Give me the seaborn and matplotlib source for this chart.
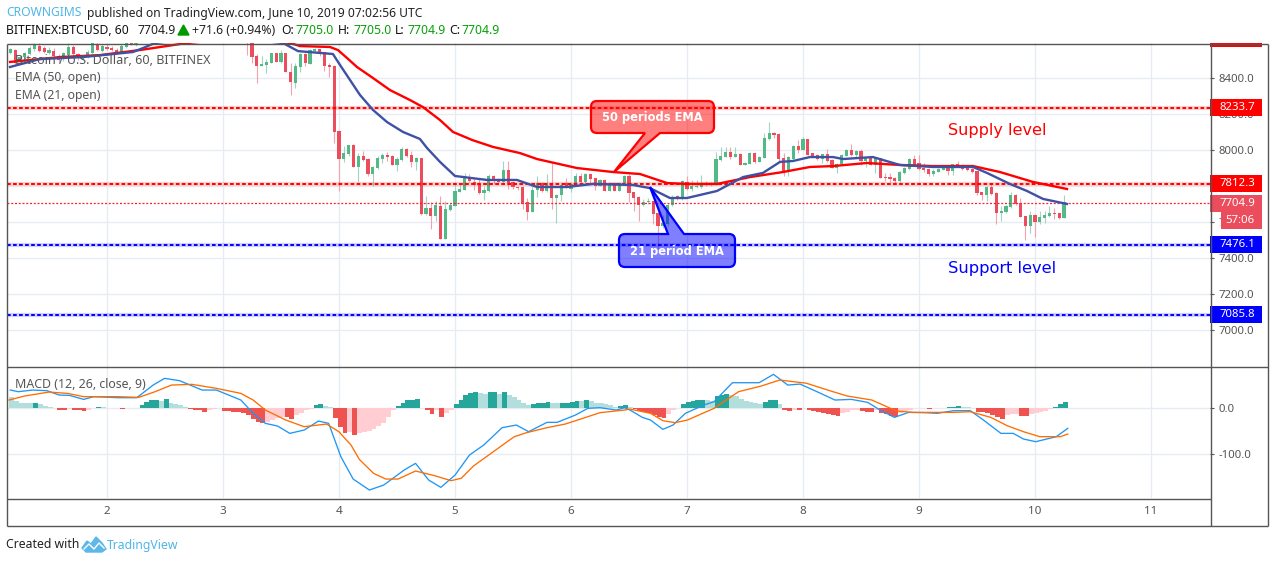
import pandas as pd
import matplotlib.pyplot as plt
import seaborn as sns
from matplotlib.patches import PathPatch, Polygon, Rectangle
from matplotlib.path import Path


class ChartPlotter:
    """ handles the candle panel, the MACD panel and all the labels around them"""

    FONT = 'Noto Sans'
    UP = '#53b987'
    DOWN = '#eb4d5c'
    GRID = '#e6ecf2'
    TEXT = '#555555'

    # hourly open, high, low, close, first candle is day 1 at 04:00
    CANDLES = [
        (8539, 8565, 8530, 8558), (8554, 8560, 8475, 8480), (8489, 8525, 8480, 8517), (8513, 8545, 8505, 8535),
        (8532, 8575, 8525, 8563), (8559, 8591, 8550, 8582), (8576, 8591, 8545, 8550), (8567, 8575, 8540, 8545),
        (8540, 8570, 8530, 8555), (8550, 8565, 8510, 8520), (8520, 8530, 8490, 8498), (8502, 8545, 8495, 8535),
        (8526, 8591, 8520, 8569), (8569, 8580, 8525, 8532), (8532, 8540, 8500, 8508), (8505, 8525, 8500, 8515),
        (8517, 8555, 8510, 8545), (8535, 8620, 8530, 8600), (8590, 8600, 8548, 8555), (8550, 8590, 8545, 8576),
        (8572, 8585, 8555, 8560), (8567, 8575, 8548, 8553), (8555, 8565, 8540, 8545), (8545, 8585, 8540, 8576),
        (8570, 8610, 8565, 8600), (8600, 8610, 8580, 8585), (8580, 8615, 8575, 8605),
        # these ones sit above the top of the panel
        (8610, 8660, 8600, 8650), (8650, 8700, 8640, 8690), (8690, 8730, 8670, 8710), (8710, 8760, 8700, 8750),
        (8750, 8790, 8730, 8770), (8770, 8800, 8740, 8750), (8750, 8780, 8720, 8730), (8730, 8770, 8710, 8760),
        (8760, 8790, 8740, 8745), (8745, 8770, 8710, 8720), (8720, 8760, 8700, 8750), (8750, 8770, 8720, 8730),
        (8730, 8750, 8690, 8700), (8700, 8740, 8680, 8725), (8725, 8750, 8700, 8710), (8710, 8730, 8670, 8680),
        (8680, 8710, 8650, 8695), (8695, 8720, 8670, 8675), (8675, 8700, 8640, 8660), (8660, 8690, 8630, 8670),
        (8670, 8690, 8640, 8650), (8650, 8680, 8620, 8660),
        (8660, 8670, 8526, 8600), (8591, 8620, 8480, 8517), (8522, 8530, 8373, 8467), (8467, 8520, 8465, 8476),
        (8472, 8505, 8427, 8487), (8483, 8540, 8480, 8535), (8535, 8540, 8487, 8489), (8487, 8555, 8480, 8535),
        (8535, 8540, 8430, 8434), (8435, 8480, 8306, 8378), (8373, 8480, 8345, 8465), (8461, 8540, 8432, 8531),
        (8531, 8540, 8463, 8480), (8476, 8560, 8474, 8554), (8548, 8565, 8540, 8559), (8557, 8562, 8520, 8535),
        (8541, 8545, 8437, 8467), (8470, 8480, 8404, 8461), (8465, 8470, 8040, 8101), (8107, 8110, 7775, 7950),
        (7950, 8020, 7935, 7983), (7977, 8030, 7965, 8027), (8027, 8032, 7905, 7907), (7907, 7985, 7825, 7966),
        (7966, 7995, 7940, 7944), (7950, 7955, 7855, 7867), (7867, 7912, 7800, 7907), (7901, 7965, 7895, 7955),
        (7950, 7985, 7926, 7972), (7972, 7990, 7940, 7963), (7966, 7970, 7915, 7917), (7917, 7960, 7885, 7950),
        (7944, 8015, 7940, 8005), (8005, 8010, 7964, 7966), (7972, 7997, 7905, 7933), (7933, 7960, 7890, 7955),
        (7955, 7957, 7640, 7645), (7645, 7745, 7640, 7678), (7678, 7710, 7562, 7634), (7634, 7720, 7608, 7693),
        (7690, 7745, 7505, 7507), (7507, 7720, 7505, 7673), (7668, 7705, 7660, 7695), (7692, 7825, 7690, 7773),
        (7769, 7810, 7765, 7784), (7778, 7872, 7778, 7849), (7849, 7868, 7822, 7828), (7821, 7845, 7780, 7806),
        (7812, 7840, 7755, 7760), (7760, 7800, 7723, 7778), (7773, 7865, 7765, 7856), (7856, 7860, 7810, 7830),
        (7839, 7845, 7815, 7821), (7821, 7937, 7815, 7889), (7889, 7937, 7785, 7815), (7825, 7830, 7785, 7797),
        (7793, 7800, 7780, 7790), (7797, 7800, 7672, 7701), (7712, 7735, 7610, 7656), (7656, 7800, 7655, 7778),
        (7778, 7857, 7740, 7819), (7819, 7825, 7765, 7773), (7773, 7867, 7770, 7819), (7815, 7926, 7673, 7734),
        (7734, 7755, 7597, 7751), (7751, 7810, 7715, 7806), (7815, 7843, 7790, 7793), (7782, 7815, 7770, 7812),
        (7806, 7870, 7800, 7856), (7856, 7872, 7815, 7821), (7821, 7872, 7817, 7865), (7865, 7867, 7817, 7839),
        (7843, 7845, 7780, 7802), (7802, 7840, 7800, 7834), (7834, 7837, 7773, 7775), (7773, 7825, 7771, 7819),
        (7819, 7822, 7772, 7775), (7775, 7822, 7773, 7819), (7815, 7862, 7813, 7856), (7856, 7865, 7710, 7760),
        (7767, 7770, 7660, 7736), (7741, 7745, 7608, 7695), (7697, 7730, 7690, 7712), (7712, 7735, 7700, 7717),
        (7717, 7720, 7590, 7645), (7653, 7655, 7450, 7579), (7579, 7640, 7570, 7594), (7590, 7700, 7580, 7693),
        (7693, 7750, 7690, 7741), (7745, 7750, 7725, 7728), (7728, 7832, 7725, 7828), (7825, 7855, 7780, 7784),
        (7784, 7835, 7775, 7800), (7793, 7835, 7790, 7802), (7797, 7860, 7790, 7819), (7819, 7828, 7800, 7806),
        (7806, 7825, 7803, 7819), (7810, 7990, 7808, 7948), (7945, 8017, 7940, 7967), (7963, 8015, 7960, 7989),
        (7989, 8015, 7950, 7963), (7963, 8015, 7960, 7978), (7978, 7985, 7915, 7917), (7917, 7935, 7915, 7928),
        (7922, 7990, 7920, 7985), (7985, 7990, 7930, 7933), (7933, 7965, 7931, 7961), (7958, 8092, 7955, 8066),
        (8061, 8155, 8055, 8094), (8094, 8100, 8065, 8083), (8089, 8097, 7940, 7948), (7954, 7985, 7855, 7884),
        (7887, 7965, 7855, 7961), (7950, 8030, 7945, 8022), (8022, 8055, 7985, 8000), (8000, 8070, 7998, 8061),
        (8061, 8063, 7970, 7972), (7983, 7985, 7967, 7969), (7972, 7980, 7945, 7948), (7948, 7980, 7930, 7976),
        (7976, 8005, 7935, 7941), (7945, 7950, 7900, 7902), (7902, 7927, 7875, 7922), (7920, 7976, 7918, 7972),
        (7969, 8005, 7967, 8000), (8000, 8033, 7968, 7972), (7972, 8000, 7955, 7994), (7994, 8005, 7915, 7941),
        (7941, 7958, 7905, 7954), (7958, 7962, 7915, 7917), (7917, 7958, 7870, 7954), (7954, 7956, 7845, 7847),
        (7849, 7870, 7830, 7845), (7850, 7870, 7825, 7840), (7845, 7850, 7815, 7826), (7828, 7882, 7825, 7878),
        (7872, 7905, 7868, 7900), (7895, 7955, 7890, 7950), (7950, 7970, 7915, 7917), (7926, 7970, 7890, 7893),
        (7902, 7930, 7880, 7889), (7895, 7900, 7857, 7867), (7865, 7895, 7855, 7884), (7878, 7900, 7876, 7895),
        (7889, 7905, 7887, 7902), (7902, 7910, 7862, 7884), (7884, 7925, 7862, 7920), (7921, 7940, 7913, 7917),
        (7917, 7925, 7890, 7893), (7904, 7910, 7885, 7889), (7895, 7925, 7872, 7876), (7884, 7886, 7752, 7760),
        (7767, 7770, 7725, 7751), (7751, 7800, 7718, 7797), (7797, 7815, 7752, 7756), (7764, 7766, 7590, 7653),
        (7653, 7690, 7605, 7662), (7656, 7695, 7652, 7690), (7684, 7765, 7680, 7751), (7751, 7755, 7695, 7701),
        (7706, 7735, 7628, 7631), (7634, 7636, 7503, 7579), (7579, 7662, 7540, 7640), (7640, 7643, 7520, 7601),
        (7601, 7662, 7590, 7629), (7623, 7660, 7597, 7640), (7634, 7690, 7630, 7651), (7651, 7677, 7617, 7647),
        (7651, 7653, 7620, 7623), (7623, 7750, 7621, 7710),
    ]

    EMA_50 = [
        (1.164, 8488), (1.595, 8515), (1.94, 8526), (2.284, 8554), (2.69, 8593), (3.147, 8620), (3.578, 8593),
        (3.664, 8576), (3.922, 8571), (3.991, 8554), (4.069, 8510), (4.155, 8460), (4.293, 8399), (4.44, 8332),
        (4.612, 8277), (4.724, 8238), (4.871, 8166), (4.983, 8100), (5.15, 8055), (5.328, 8017), (5.56, 7983),
        (5.707, 7950), (6.052, 7900), (6.362, 7878), (6.595, 7867), (6.828, 7817), (7.0, 7812), (7.259, 7812),
        (7.543, 7850), (7.828, 7878), (8.06, 7906), (8.259, 7911), (8.552, 7928), (8.836, 7917), (9.121, 7911),
        (9.466, 7911), (9.698, 7878), (9.983, 7823), (10.276, 7784),
    ]

    EMA_21 = [
        (1.164, 8460), (1.422, 8504), (1.793, 8515), (2.224, 8543), (2.31, 8565), (2.414, 8593), (2.931, 8632),
        (3.517, 8593), (3.647, 8548), (3.948, 8532), (4.009, 8471), (4.095, 8388), (4.181, 8305), (4.293, 8222),
        (4.414, 8155), (4.552, 8100), (4.698, 8061), (4.759, 8011), (4.871, 7934), (5.0, 7856), (5.276, 7834),
        (5.534, 7834), (5.707, 7795), (5.966, 7795), (6.19, 7812), (6.534, 7806), (6.681, 7789), (6.853, 7734),
        (7.0, 7734), (7.259, 7773), (7.483, 7850), (7.655, 7873), (7.802, 7934), (7.914, 7939), (8.06, 7961),
        (8.259, 7961), (8.345, 7950), (8.603, 7961), (8.836, 7917), (9.121, 7906), (9.466, 7906), (9.586, 7873),
        (9.784, 7812), (9.931, 7773), (10.069, 7729), (10.276, 7701),
    ]

    MACD = [
        (1.166, 37.8), (1.236, 34.3), (1.36, 37.8), (1.483, 36.4), (1.588, 27.1), (1.676, 26.4), (1.799, 17.8),
        (1.887, 23.6), (2.099, 21.4), (2.257, 21.4), (2.398, 48.5), (2.496, 62.8), (2.626, 57.8), (2.82, 37.8),
        (2.943, 37.8), (3.154, 16.4), (3.26, -12.1), (3.365, -33.5), (3.471, -39.3), (3.576, -55), (3.7, -47.8),
        (3.823, -28.6), (3.911, -33.5), (4.016, -104.9), (4.122, -152.8), (4.262, -176.3), (4.386, -165.6),
        (4.562, -133.5), (4.66, -119.2), (4.773, -154.9), (4.878, -170.6), (5.001, -144.2), (5.125, -101.4),
        (5.248, -79.9), (5.406, -42.8), (5.529, -37.1), (5.635, -51.4), (5.793, -31.4), (5.881, -31.4),
        (6.039, -15.7), (6.145, -1.4), (6.25, 0), (6.391, -5), (6.462, 0), (6.509, -5), (6.615, -20.7),
        (6.686, -26.4), (6.792, -46.4), (6.88, -37.1), (6.986, -12.1), (7.145, 5.7), (7.233, 12.8), (7.392, 53.5),
        (7.569, 53.5), (7.622, 53.5), (7.746, 71.4), (7.869, 48.5), (7.975, 50.6), (8.134, 32.8), (8.276, 16.4),
        (8.417, 17.8), (8.558, 11.4), (8.664, -5), (8.788, -20.7), (8.912, -10), (9.053, -10.7), (9.159, -12.1),
        (9.3, -6.4), (9.442, -6.4), (9.548, -25), (9.707, -55), (9.813, -55), (9.901, -67.1), (10.007, -72.8),
        (10.184, -62.1), (10.283, -44.2),
    ]

    SIGNAL = [
        (1.156, 16.4), (1.289, 25), (1.5, 33.5), (1.659, 30.7), (1.799, 23.6), (2.099, 23.6), (2.274, 22.1),
        (2.415, 34.3), (2.556, 48.5), (2.732, 50), (2.943, 41.4), (3.154, 30.7), (3.26, 16.4), (3.365, -5),
        (3.541, -26.4), (3.7, -40.7), (3.893, -35), (3.999, -51.4), (4.104, -80), (4.175, -110.6), (4.298, -140.6),
        (4.403, -152.8), (4.509, -152.8), (4.66, -135.6), (4.825, -145.6), (4.966, -156.3), (5.054, -151.2),
        (5.16, -124.8), (5.371, -87), (5.512, -62), (5.617, -53.5), (5.793, -42.8), (5.951, -35), (6.145, -19.3),
        (6.25, -10.7), (6.462, -5), (6.509, -2.9), (6.686, -12.1), (6.792, -27.8), (6.898, -32.1), (7.004, -26.4),
        (7.233, -1.4), (7.445, 34.3), (7.64, 46.4), (7.799, 59.2), (8.028, 52.5), (8.24, 35.7), (8.382, 25),
        (8.594, 16.4), (8.806, -7.1), (8.947, -10), (9.3, -10), (9.442, -8.6), (9.619, -20.7), (9.76, -38.5),
        (9.901, -51.4), (10.042, -62.1), (10.219, -62.1), (10.283, -56.4),
    ]

    HISTOGRAM = [
        23, 15, 11, 10.8, 10.5, 11, 7, 4, 2, 0,
        -4, -4.5, -3, -4, -6, -7, -4, -1, 1, 0.5,
        0, -0.5, -1, -2, -1, -0.5, 0, 6, 13, 16,
        16.5, 15, 18, 10, 8, 6, 1.5, -2, -4, -6,
        -9, -6, -3, -1, -7, -7.5, -9, -10, -12, -16,
        -24, -30, -32, -30, -26, -23, -19, -20, -24, -16,
        -11, -6, -3, 5, 8, 3, 1.5, -23, -42, -54,
        -53, -58, -55, -53, -50, -46, -40, -32, -20, -5,
        3, 11, 16, 17, 18.5, 0, -6, -13, -5, -19,
        -12, -5, 8, 16, 27, 32, 33.5, 31, 30, 33.5,
        33.7, 30, 33.5, 28, 22, 16, 10, 5, 7, 9,
        11, 13, 10, 9, 10.5, 11, 13, 15, 14, 17,
        14, 11, 9, 7, 5.5, 2, 4, 5.5, 1, -3,
        -7, -10, -12, -16, -19, -23, -13, -6, -1, 7,
        13, 15, 16, 16.5, 15.5, 15, 24, 28, 29, 28,
        25, 18, 15, 12, 10, 8, 12, 16, 16.5, 8,
        -5, -7, -5, -5.5, -0.5, -4, -7, -10, -11, -13,
        -15, -17, -12, -9, -6, -4, -8, -8.5, -9, -5,
        -12, -14, -17, -19, -12, -8, -5, -1, -0.5, -0.3,
        -2, -1, -0.5, -0.2, 0.5, 1, 3.5, 2, 1, 0.2,
        -8.5, -10, -12, -15, -19, -24, -16, -13.5, -13, -17,
        -18, -13.5, -12, -10, -7, -3, 1.5, 8, 12,
    ]

    def __init__(self, outpath: str):
        self.outpath = outpath
        df = pd.DataFrame(self.CANDLES, columns=['open', 'high', 'low', 'close'])
        df['day'] = [1 + (4 + i) / 24 for i in range(len(df))]
        df['hist'] = self.HISTOGRAM
        self.df = df

    def plot_candles(self, ax) -> None:
        """draw candles, both EMAs and the horizontal levels"""
        df = self.df
        up = df['close'] >= df['open']
        ax.vlines(df['day'], df['low'], df['high'], colors=['#a3d4c1' if u else '#f4a3ac' for u in up], linewidth=0.8, zorder=2)
        ax.bar(df['day'], (df['close'] - df['open']).abs().clip(lower=4), bottom=df[['open', 'close']].min(axis=1),
               width=0.028, color=[self.UP if u else self.DOWN for u in up], zorder=3)

        # levels, pale band first and the dashes over it
        for level, color in [(8233.7, '#ff0000'), (7812.3, '#ff0000'), (7476.1, '#0000ff'), (7085.8, '#0000ff')]:
            ax.axhline(level, color=color, alpha=0.18, linewidth=3, zorder=4)
            ax.axhline(level, color=color, linewidth=1.4, dashes=(1.9, 1.2), zorder=4)
        ax.axhline(7704.9, color='#ff2030', linewidth=0.9, dashes=(1.6, 1.4), zorder=4)

        ema_50 = pd.DataFrame(self.EMA_50, columns=['day', 'value'])
        ema_21 = pd.DataFrame(self.EMA_21, columns=['day', 'value'])
        sns.lineplot(data=ema_50, x='day', y='value', color='#ff0000', linewidth=1.7, estimator=None, ax=ax, zorder=5)
        sns.lineplot(data=ema_21, x='day', y='value', color='#3f51a5', linewidth=1.7, estimator=None, ax=ax, zorder=5)

        ax.set_xlim(1.138, 11.509)
        ax.set_ylim(6803, 8593)
        ax.set_yticks(range(7000, 8600, 200))
        ax.set_yticklabels([f'{v}.0' for v in range(7000, 8600, 200)])
        ax.set_xticks(range(2, 12))
        ax.tick_params(axis='x', length=0, labelbottom=False)
        self.style_axis(ax)

    def plot_macd(self, ax) -> None:
        """draw histogram and the two MACD lines"""
        df = self.df
        colors = []
        previous = None
        for value in df['hist']:
            rising = previous is None and value < 0 or previous is not None and value >= previous
            if value >= 0:
                colors.append('#26a69a' if rising else '#b2dfdb')
            else:
                colors.append('#ffcdd2' if rising else '#ef5350')
            previous = value
        ax.bar(df['day'] + 0.01, df['hist'], width=1 / 24, color=colors, zorder=2)

        macd = pd.DataFrame(self.MACD, columns=['day', 'value'])
        signal = pd.DataFrame(self.SIGNAL, columns=['day', 'value'])
        sns.lineplot(data=macd, x='day', y='value', color='#2196f3', linewidth=0.95, estimator=None, ax=ax, zorder=3)
        sns.lineplot(data=signal, x='day', y='value', color='#ff6d00', linewidth=0.95, estimator=None, ax=ax, zorder=3)

        ax.set_xlim(1.138, 11.509)
        ax.set_ylim(-193.4, 89.3)
        ax.set_yticks([0, -100])
        ax.set_yticklabels(['0.0', '-100.0'])
        ax.set_xticks(range(2, 12))
        ax.tick_params(axis='x', length=0, pad=6, labelsize=8.4, colors=self.TEXT)
        self.style_axis(ax)

    def style_axis(self, ax) -> None:
        """shared grid, spines and the price scale on the right"""
        ax.set_xlabel('')
        ax.set_ylabel('')
        ax.set_axisbelow(True)
        ax.grid(True, color=self.GRID, linewidth=1)
        ax.yaxis.tick_right()
        ax.tick_params(axis='y', length=3, width=0.8, pad=3.4, labelsize=8.2, color=self.TEXT, labelcolor=self.TEXT)
        for label in ax.get_xticklabels() + ax.get_yticklabels():
            label.set_family(self.FONT)
        for spine in ax.spines.values():
            spine.set_visible(False)

    def price_box(self, ax, price: float, color: str) -> None:
        """coloured label on the price scale, centred on its price"""
        box = Rectangle((1.0, price - 47), 52 / 1203, 94, transform=ax.get_yaxis_transform(), color=color,
                        clip_on=False, zorder=6, linewidth=0)
        ax.add_patch(box)
        ax.text(1.0 + 9 / 1203, price, f'{price:.1f}', transform=ax.get_yaxis_transform(), color='white', va='center',
                fontsize=8.2, family=self.FONT, zorder=7)

    def callout(self, ov, box, base, tip, top, color, label) -> None:
        """rounded balloon with its pointer, in figure pixels"""
        x0, y0, x1, y1 = box
        r = 6
        verts = [(x0 + r, y0)]
        codes = [Path.MOVETO]
        if top:
            verts += [(base[0], y0), tip, (base[1], y0)]
            codes += [Path.LINETO] * 3
        verts += [(x1 - r, y0), (x1, y0), (x1, y0 + r), (x1, y1 - r), (x1, y1), (x1 - r, y1)]
        codes += [Path.LINETO, Path.CURVE3, Path.CURVE3, Path.LINETO, Path.CURVE3, Path.CURVE3]
        if not top:
            verts += [(base[1], y1), tip, (base[0], y1)]
            codes += [Path.LINETO] * 3
        verts += [(x0 + r, y1), (x0, y1), (x0, y1 - r), (x0, y0 + r), (x0, y0), (x0 + r, y0)]
        codes += [Path.LINETO, Path.CURVE3, Path.CURVE3, Path.LINETO, Path.CURVE3, Path.CURVE3]
        ov.add_patch(PathPatch(Path(verts, codes), facecolor=color + '80', edgecolor=color, linewidth=1.6))
        ov.text((x0 + x1) / 2, (y0 + y1) / 2 + 0.5, label, color='white', fontsize=8.3, fontweight='bold',
                family='DejaVu Sans', ha='center', va='center')

    def plot_labels(self, ov) -> None:
        """frame, header, legends and balloons, all in figure pixels"""
        ov.set_xlim(0, 1274)
        ov.set_ylim(562, 0)
        ov.set_axis_off()

        # frame and panel separators
        ov.hlines([43.5, 366.5, 525.5], 6.5, 1267.5, color=self.TEXT, linewidth=1)
        ov.hlines(498.5, 6.5, 1210.5, color=self.TEXT, linewidth=1)
        ov.vlines([6.5, 1210.5, 1267.5], 43.5, 525.5, color=self.TEXT, linewidth=1)

        # header lines
        ov.text(6, 13, 'CROWNGIMS', color='#4db6e8', fontsize=8.7, family=self.FONT, va='center')
        ov.text(87, 13, 'published on TradingView.com, June 10, 2019 07:02:56 UTC', color='#222222', fontsize=8.7,
                family=self.FONT, va='center')
        ov.text(6, 30, 'BITFINEX:BTCUSD, 60', color='#111111', fontsize=8.8, fontweight='bold', family=self.FONT, va='center')
        ov.text(137, 30, '7704.9', color='#222222', fontsize=8.8, family=self.FONT, va='center')
        ov.add_patch(Polygon([(178, 35), (189, 35), (183.5, 25)], color='#009900'))
        ov.text(192, 30, '+71.6 (+0.94%)', color='#222222', fontsize=8.8, family=self.FONT, va='center')
        for x, name in [(281, 'O:'), (338, 'H:'), (395, 'L:'), (449, 'C:')]:
            ov.text(x, 30, name, color='#111111', fontsize=8.8, fontweight='bold', family=self.FONT, va='center')
        for x, value in [(296, '7705.0'), (353, '7705.0'), (407, '7704.9'), (462, '7704.9')]:
            ov.text(x, 30, value, color='#09a009', fontsize=8.8, family=self.FONT, va='center')

        # pane legends
        ov.text(15, 60, 'Bitcoin / U.S. Dollar, 60, BITFINEX', color=self.TEXT, fontsize=9.05, family=self.FONT, va='center')
        ov.text(15, 77, 'EMA (50, open)', color=self.TEXT, fontsize=8.8, family=self.FONT, va='center')
        ov.text(15, 95, 'EMA (21, open)', color=self.TEXT, fontsize=8.8, family=self.FONT, va='center')
        ov.text(15, 384, 'MACD (12, 26, close, 9)', color=self.TEXT, fontsize=8.9, family=self.FONT, va='center')

        ov.text(948, 131, 'Supply level', color='#ff0000', fontsize=11.6, family='DejaVu Sans', va='center')
        ov.text(948, 269, 'Support level', color='#0000ff', fontsize=11.7, family='DejaVu Sans', va='center')

        self.callout(ov, (591, 101, 714, 133), (645, 660), (614, 172), False, '#ff0000', '50 periods EMA')
        self.callout(ov, (619, 234, 735, 267), (668, 684), (650, 187), True, '#0000ff', '21 period EMA')

        # countdown under the last price
        ov.add_patch(Rectangle((1221, 212), 41, 17, color=self.DOWN, linewidth=0))
        ov.text(1225, 220.5, '57:06', color='white', fontsize=8.2, family=self.FONT, va='center')

        # footer
        ov.text(6, 545, 'Created with', color='#222222', fontsize=8.8, family=self.FONT, va='center')
        ov.add_patch(Polygon([(82, 548), (87, 541), (91, 544), (96, 537), (102, 543), (106, 549), (102, 552), (86, 552)],
                             color='#5bb8e8'))
        ov.plot([84, 89, 94, 99, 104], [549, 544, 549, 543, 548], color='white', linewidth=1)
        ov.text(107, 545, 'TradingView', color='#4db6e8', fontsize=8.8, family=self.FONT, va='center')

    def plot_chart(self) -> str:
        """ MAIN entrypoint """
        fig = plt.figure(figsize=(12.74, 5.62), dpi=100)
        ax1 = fig.add_axes([7 / 1274, (562 - 366) / 562, 1203 / 1274, 323 / 562])
        ax2 = fig.add_axes([7 / 1274, (562 - 498) / 562, 1203 / 1274, 132 / 562])
        ov = fig.add_axes([0, 0, 1, 1], facecolor='none')

        self.plot_candles(ax1)
        self.plot_macd(ax2)

        # boxes on the price scale
        self.price_box(ax1, 8233.7, '#ff0000')
        self.price_box(ax1, 7812.3, '#ff0000')
        self.price_box(ax1, 7704.9, self.DOWN)
        self.price_box(ax1, 7476.1, '#0000ff')
        self.price_box(ax1, 7085.8, '#0000ff')
        self.plot_labels(ov)
        ov.add_patch(Rectangle((1210, 43), 52, 4, color='#ff0000', linewidth=0))

        plt.savefig(self.outpath, dpi=100)
        return self.outpath


plotter = ChartPlotter('out.png')
path = plotter.plot_chart()

print("Results saved in: ", path)
